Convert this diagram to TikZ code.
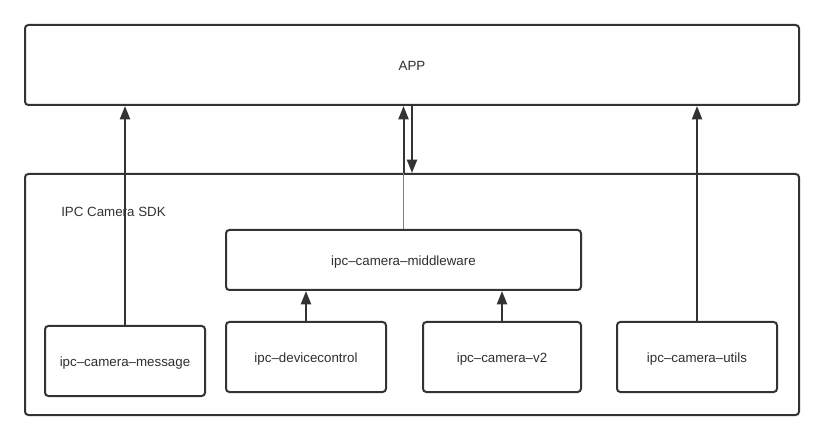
\documentclass[tikz,border=0pt]{standalone}
\usepackage{fontspec}
\setmainfont{Liberation Sans}
\usetikzlibrary{arrows.meta}
\definecolor{ink}{HTML}{333333}
\tikzset{
  box/.style={draw=ink, line width=1.5pt, rounded corners=2.5pt, inner sep=0pt, font=\fontsize{10}{12}\selectfont, text=ink!90!black, text height=9pt, text depth=0pt},
  arr/.style={draw=ink, line width=1.5pt, -{Triangle[length=10pt,width=7.5pt]}},
  thinline/.style={draw=gray, line width=1.1pt}
}
\begin{document}
\begin{tikzpicture}[x=0.75pt,y=-0.75pt]
\useasboundingbox (0,0) rectangle (824,441);
\node[box, minimum width=580.5pt, minimum height=60pt] (app) at (412,65) {APP};
\node[box, minimum width=580.5pt, minimum height=180.75pt] (sdk) at (412,294.5) {};
\node[anchor=west, inner sep=0pt, font=\fontsize{10}{12}\selectfont, text=ink] (sdklabel) at (61,212) {IPC Camera SDK};
\node[box, minimum width=266.25pt, minimum height=45pt] (mw) at (403.5,260) {ipc–camera–middleware};
\node[box, minimum width=120pt, minimum height=52.5pt] (msg) at (125,361) {ipc–camera–message};
\node[box, minimum width=120pt, minimum height=52.5pt] (dev) at (306,357) {ipc–devicecontrol};
\node[box, minimum width=118.5pt, minimum height=52.5pt] (v2) at (502,357) {ipc–camera–v2};
\node[box, minimum width=120pt, minimum height=52.5pt] (utils) at (697,357) {ipc–camera–utils};
\draw[arr] (msg.north) -- (msg.north |- app.south);
\draw[arr] (utils.north) -- (utils.north |- app.south);
\draw[arr] (dev.north) -- (dev.north |- mw.south);
\draw[arr] (v2.north) -- (v2.north |- mw.south);
\coordinate (sdkcross) at (mw.north |- sdk.north);
\draw[thinline] (mw.north) -- (sdkcross);
\draw[arr] (sdkcross) -- (sdkcross |- app.south);
\draw[arr] (app.south) -- (app.south |- sdk.north);
\end{tikzpicture}
\end{document}
